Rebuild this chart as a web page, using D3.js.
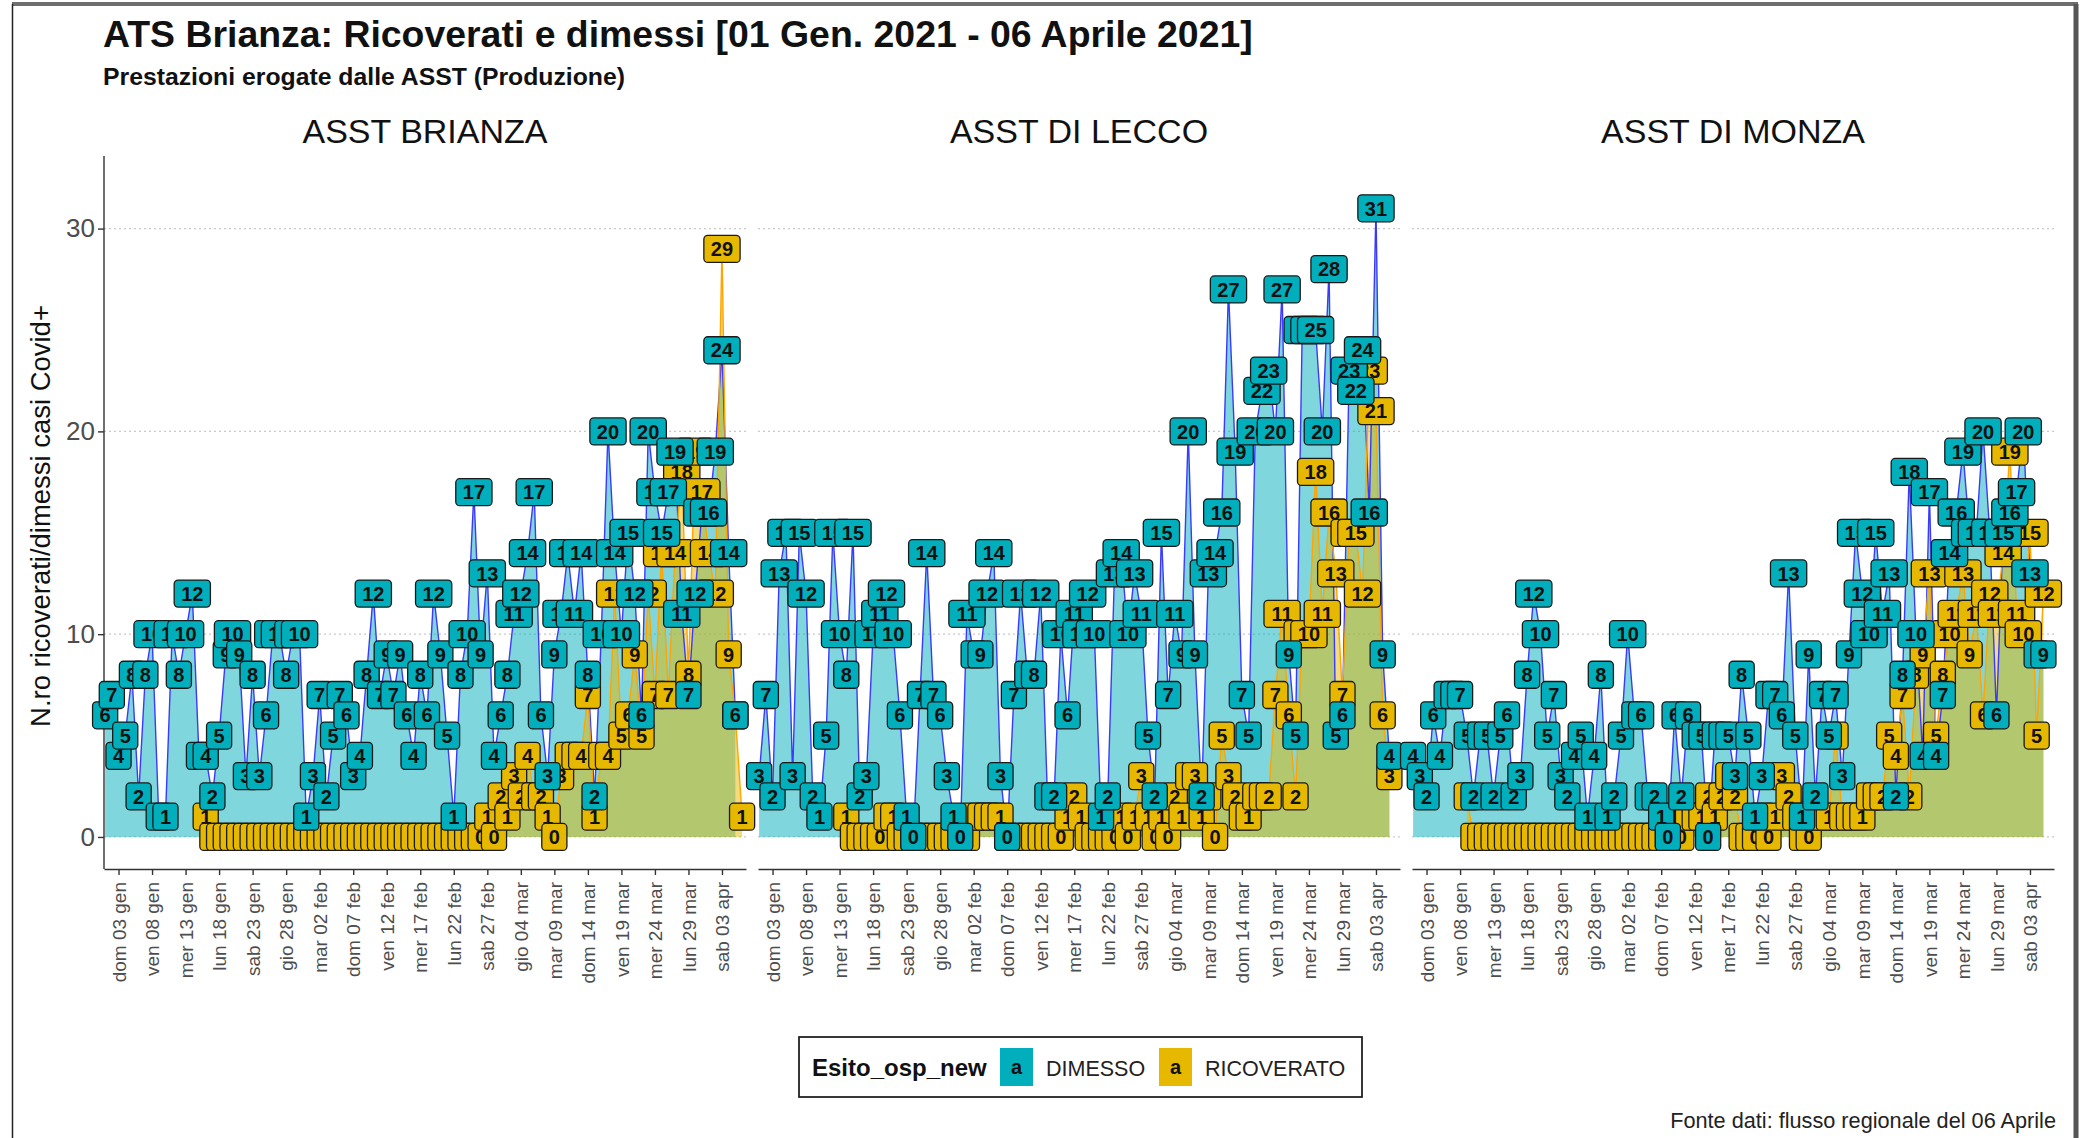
<!DOCTYPE html>
<html>
<head>
<meta charset="utf-8">
<script src="https://cdn.jsdelivr.net/npm/d3@7/dist/d3.min.js"></script>
<style>
body { margin: 0; background: #fff; }
svg { font-family: "Liberation Sans", Arial, sans-serif; }
</style>
</head>
<body>
<svg id="chart" width="2080" height="1138"></svg>
<script>
//one value per day starting from 01 gen 2021, null = no record that day
var firstDay = "2021-01-01";
var panels = ["ASST BRIANZA", "ASST DI LECCO", "ASST DI MONZA"];
var groups = ["DIMESSO", "RICOVERATO"];
var yTicks = [0, 10, 20, 30];
var xTickDays = ["2021-01-03", "2021-01-08", "2021-01-13", "2021-01-18", "2021-01-23",
    "2021-01-28", "2021-02-02", "2021-02-07", "2021-02-12", "2021-02-17", "2021-02-22",
    "2021-02-27", "2021-03-04", "2021-03-09", "2021-03-14", "2021-03-19", "2021-03-24",
    "2021-03-29", "2021-04-03"];

var brianzaDimesso = [
    6, 7, 4, 5, 8, 2, 8, 10, 1, 1,
    10, 8, 10, 12, 4, 4, 2, 5, 9, 10,
    9, 3, 8, 3, 6, 10, 10, 8, 10, 10,
    1, 3, 7, 2, 5, 7, 6, 3, 4, 8,
    12, 7, 9, 7, 9, 6, 4, 8, 6, 12,
    9, 5, 1, 8, 10, 17, 9, 13, 4, 6,
    8, 11, 12, 14, 17, 6, 3, 9, 11, 14,
    11, 14, 8, 2, 10, 20, 14, 10, 15, 12,
    6, 20, 17, 15, 17, 19, 11, 7, 12, 16,
    16, 19, 24, 14, 6];
var brianzaRicoverato = [
    null, null, null, null, null, null, null, null, null, null,
    null, null, null, null, null, 1, 0, 0, 0, 0,
    0, 0, 0, 0, 0, 0, 0, 0, 0, 0,
    0, 0, 0, 0, 0, 0, 0, 0, 0, 0,
    0, 0, 0, 0, 0, 0, 0, 0, 0, 0,
    0, 0, 0, 0, 0, 0, 0, 1, 0, 2,
    1, 3, 2, 4, 2, 2, 1, 0, 3, 4,
    4, 4, 7, 1, 4, 4, 12, 5, 6, 9,
    5, 12, 7, 14, 7, 14, 18, 8, 19, 17,
    14, 12, 29, 9, 6, 1];

var leccoDimesso = [
    3, 7, 2, 13, 15, 3, 15, 12, 2, 1,
    5, 15, 10, 8, 15, 2, 3, 10, 11, 12,
    10, 6, 1, 0, 7, 14, 7, 6, 3, 1,
    0, 11, 9, 9, 12, 14, 3, 0, 7, 12,
    8, 8, 12, 2, 2, 10, 6, 11, 10, 12,
    10, 1, 2, 13, 14, 10, 13, 11, 5, 2,
    15, 7, 11, 9, 20, 9, 2, 13, 14, 16,
    27, 19, 7, 5, 20, 22, 23, 20, 27, 9,
    5, 25, 25, 25, 20, 28, 5, 6, 23, 22,
    24, 16, 31, 9, 4];
var leccoRicoverato = [
    null, null, null, null, null, null, null, null, null, null,
    null, null, null, 1, 0, 0, 0, 0, 0, 1,
    1, 0, 0, 0, 0, 0, 0, 0, 0, 0,
    0, 0, 1, 1, 1, 1, 1, 0, 0, 0,
    0, 0, 0, 0, 0, 0, 1, 2, 1, 0,
    0, 0, 0, 0, 1, 0, 1, 3, 1, 0,
    1, 0, 2, 1, 3, 3, 1, 2, 0, 5,
    3, 2, 1, 1, 2, 2, 2, 7, 11, 6,
    2, 10, 10, 18, 11, 16, 13, 7, 15, 15,
    12, 23, 21, 6, 3];

var monzaDimesso = [
    4, 3, 2, 6, 4, 7, 7, 7, 5, 2,
    5, 5, 2, 5, 6, 2, 3, 8, 12, 10,
    5, 7, 3, 2, 4, 5, 1, 4, 8, 1,
    2, 5, 10, 6, 6, 2, 2, 1, 0, 6,
    2, 6, 5, 5, 0, 5, 5, 5, 3, 8,
    5, 1, 3, 7, 7, 6, 13, 5, 1, 9,
    2, 7, 5, 7, 3, 9, 15, 12, 10, 15,
    11, 13, 2, 8, 18, 10, 4, 17, 4, 7,
    14, 16, 19, 15, 15, 20, 15, 6, 15, 16,
    17, 20, 13, 9, 9];
var monzaRicoverato = [
    null, null, null, null, null, null, null, null, 2, 0,
    0, 0, 0, 0, 0, 0, 0, 0, 0, 0,
    0, 0, 0, 0, 0, 0, 0, 0, 0, 0,
    0, 0, 0, 0, 0, 0, 0, 0, 0, 1,
    0, 1, 1, 1, 2, 1, 2, 3, 2, 0,
    0, 0, 1, 0, 1, 3, 2, 1, 0, 0,
    1, 1, 1, 5, 1, 1, 1, 1, 2, 2,
    2, 5, 4, 7, 2, 8, 9, 13, 5, 8,
    10, 11, 13, 9, 11, 6, 12, 11, 14, 19,
    11, 10, 15, 5, 12];

var seriesByPanel = [
    [brianzaDimesso, brianzaRicoverato],
    [leccoDimesso, leccoRicoverato],
    [monzaDimesso, monzaRicoverato]
];

var fillColor = {DIMESSO: "#00AFBB", RICOVERATO: "#E7B800"};
var lineColor = {DIMESSO: "#3a3aff", RICOVERATO: "#FFA500"};

var svg = d3.select("#chart");
var panelLeft = [104, 758, 1412], panelW = 642, panelTop = 156, panelBottom = 869;

var parseDay = d3.utcParse("%Y-%m-%d");
var start = parseDay(firstDay);

var it = d3.timeFormatLocale({
    dateTime: "%A %e %B %Y, %X", date: "%d/%m/%Y", time: "%H:%M:%S", periods: ["AM", "PM"],
    days: ["domenica", "lunedì", "martedì", "mercoledì", "giovedì", "venerdì", "sabato"],
    shortDays: ["dom", "lun", "mar", "mer", "gio", "ven", "sab"],
    months: ["gennaio", "febbraio", "marzo", "aprile", "maggio", "giugno", "luglio", "agosto",
        "settembre", "ottobre", "novembre", "dicembre"],
    shortMonths: ["gen", "feb", "mar", "apr", "mag", "giu", "lug", "ago", "set", "ott", "nov", "dic"]
});
var fmtTick = it.utcFormat("%a %d %b");

var x = d3.scaleUtc()
    .domain([d3.utcHour.offset(start, -4), d3.utcHour.offset(start, 95 * 24 + 14)])
    .range([0, panelW]);
var y = d3.scaleLinear()
    .domain([-1.58, 33.58])
    .range([panelBottom, panelTop]);

//scale font so the text fills a given width
function fitWidth(sel, w) {
    var cur = sel.node().getComputedTextLength();
    var fs = parseFloat(sel.attr("font-size"));
    sel.attr("font-size", (fs * w / cur).toFixed(2));
}

//outer frame
svg.append("line").attr("x1", 12).attr("x2", 2078).attr("y1", 4).attr("y2", 4)
    .style("stroke", "#6e6e6e").style("stroke-width", 4);
svg.append("line").attr("x1", 12.5).attr("x2", 12.5).attr("y1", 4).attr("y2", 1138)
    .style("stroke", "#222").style("stroke-width", 1.5);
svg.append("line").attr("x1", 2076).attr("x2", 2076).attr("y1", 4).attr("y2", 1138)
    .style("stroke", "#555").style("stroke-width", 5);

//titles
var title = svg.append("text")
    .attr("x", 103).attr("y", 47)
    .attr("font-size", 37).attr("font-weight", "bold").attr("fill", "#111")
    .text("ATS Brianza: Ricoverati e dimessi [01 Gen. 2021 - 06 Aprile 2021]");
fitWidth(title, 1150);

var subtitle = svg.append("text")
    .attr("x", 103).attr("y", 85)
    .attr("font-size", 24).attr("font-weight", "bold").attr("fill", "#111")
    .text("Prestazioni erogate dalle ASST (Produzione)");
fitWidth(subtitle, 522);

//y axis title
var ytitle = svg.append("text")
    .attr("transform", "translate(50,516) rotate(-90)")
    .attr("text-anchor", "middle")
    .attr("font-size", 27).attr("fill", "#111")
    .text("N.ro ricoverati/dimessi casi Covid+");
fitWidth(ytitle, 422);

var digitW = 0;

panels.forEach(function(name, p) {
    var g = svg.append("g").attr("transform", "translate(" + panelLeft[p] + ",0)");

    //strip label
    g.append("text")
        .attr("x", panelW / 2).attr("y", 143)
        .attr("text-anchor", "middle")
        .attr("font-size", 34).attr("fill", "#111")
        .text(name);

    //dotted gridlines
    g.selectAll(".grid")
        .data(yTicks)
        .enter().append("line")
        .attr("x1", 0).attr("x2", panelW)
        .attr("y1", d => y(d)).attr("y2", d => y(d))
        .style("stroke", "#c9c9c9")
        .style("stroke-width", 1.2)
        .style("stroke-dasharray", "2,3");

    var rows = seriesByPanel[p].map(function(vals) {
        return vals.map(function(v, i) {
            return {date: d3.utcDay.offset(start, i), v: v};
        });
    });

    var area = d3.area()
        .defined(d => d.v != null)
        .x(d => x(d.date))
        .y0(y(0))
        .y1(d => y(d.v));
    var line = d3.line()
        .defined(d => d.v != null)
        .x(d => x(d.date))
        .y(d => y(d.v));

    groups.forEach(function(grp, k) {
        g.append("path")
            .datum(rows[k])
            .attr("d", area)
            .attr("fill", fillColor[grp])
            .attr("fill-opacity", 0.5);
    });
    groups.forEach(function(grp, k) {
        g.append("path")
            .datum(rows[k])
            .attr("d", line)
            .attr("fill", "none")
            .attr("stroke", lineColor[grp])
            .attr("stroke-width", 1.4);
    });

    //x axis
    var xa = g.append("g")
        .attr("transform", "translate(0," + panelBottom + ")")
        .call(d3.axisBottom(x)
            .tickValues(xTickDays.map(parseDay))
            .tickFormat(fmtTick)
            .tickSize(6)
            .tickSizeOuter(0));
    xa.select(".domain").style("stroke", "#333").style("stroke-width", 1.4);
    xa.selectAll(".tick line").style("stroke", "#333").style("stroke-width", 1.4);
    xa.selectAll("text")
        .attr("transform", "rotate(-90)")
        .attr("text-anchor", "end")
        .attr("x", -13).attr("y", 0).attr("dy", "0.35em")
        .attr("font-size", 19)
        .attr("font-family", "Liberation Sans, Arial, sans-serif")
        .attr("fill", "#4d4d4d");

    //y axis only on the first panel
    if (p === 0) {
        var ya = g.append("g")
            .call(d3.axisLeft(y).tickValues(yTicks).tickSize(6).tickSizeOuter(0));
        ya.select(".domain").attr("d", "M0," + panelTop + "V" + panelBottom)
            .style("stroke", "#333").style("stroke-width", 1.4);
        ya.selectAll(".tick line").style("stroke", "#333").style("stroke-width", 1.4);
        ya.selectAll("text")
            .attr("x", -9)
            .attr("font-size", 26)
            .attr("font-family", "Liberation Sans, Arial, sans-serif")
            .attr("fill", "#4d4d4d");
    }

    //labels: ricoverato first, dimesso on top
    [1, 0].forEach(function(k) {
        var grp = groups[k];
        var pts = rows[k].filter(d => d.v != null);
        var lab = g.selectAll(".lab-" + grp)
            .data(pts)
            .enter().append("g")
            .attr("class", "lab-" + grp)
            .attr("transform", d => "translate(" + x(d.date) + "," + y(d.v) + ")");
        var txt = lab.append("text")
            .attr("text-anchor", "middle")
            .attr("dy", "0.36em")
            .attr("font-size", 20)
            .attr("font-weight", "bold")
            .attr("fill", "#111")
            .text(d => d.v);
        if (!digitW) digitW = txt.filter(d => String(d.v).length === 1).node().getComputedTextLength();
        lab.insert("rect", "text")
            .attr("x", d => -(String(d.v).length * digitW + 14) / 2)
            .attr("y", -13.5)
            .attr("width", d => String(d.v).length * digitW + 14)
            .attr("height", 27)
            .attr("rx", 4)
            .attr("fill", fillColor[grp])
            .attr("stroke", "#1a1a1a")
            .attr("stroke-width", 1.3);
    });
});

//legend
var legend = svg.append("g");
legend.append("rect")
    .attr("x", 799).attr("y", 1037).attr("width", 563).attr("height", 60)
    .attr("fill", "#fff").attr("stroke", "#222").attr("stroke-width", 1.8);
legend.append("text")
    .attr("x", 812).attr("y", 1076)
    .attr("font-size", 24).attr("font-weight", "bold").attr("fill", "#111")
    .text("Esito_osp_new");
var keyX = [1000, 1159], labelX = [1046, 1205];
groups.forEach(function(grp, k) {
    legend.append("rect")
        .attr("x", keyX[k]).attr("y", 1048).attr("width", 33).attr("height", 38)
        .attr("fill", fillColor[grp]);
    legend.append("text")
        .attr("x", keyX[k] + 16.5).attr("y", 1074)
        .attr("text-anchor", "middle")
        .attr("font-size", 20).attr("font-weight", "bold").attr("fill", "#111")
        .text("a");
    legend.append("text")
        .attr("x", labelX[k]).attr("y", 1076)
        .attr("font-size", 21.5).attr("fill", "#222")
        .text(grp);
});

//source note
var note = svg.append("text")
    .attr("x", 2056).attr("y", 1128)
    .attr("text-anchor", "end")
    .attr("font-size", 21.5).attr("fill", "#222")
    .text("Fonte dati: flusso regionale del 06 Aprile");
fitWidth(note, 386);
</script>
</body>
</html>
